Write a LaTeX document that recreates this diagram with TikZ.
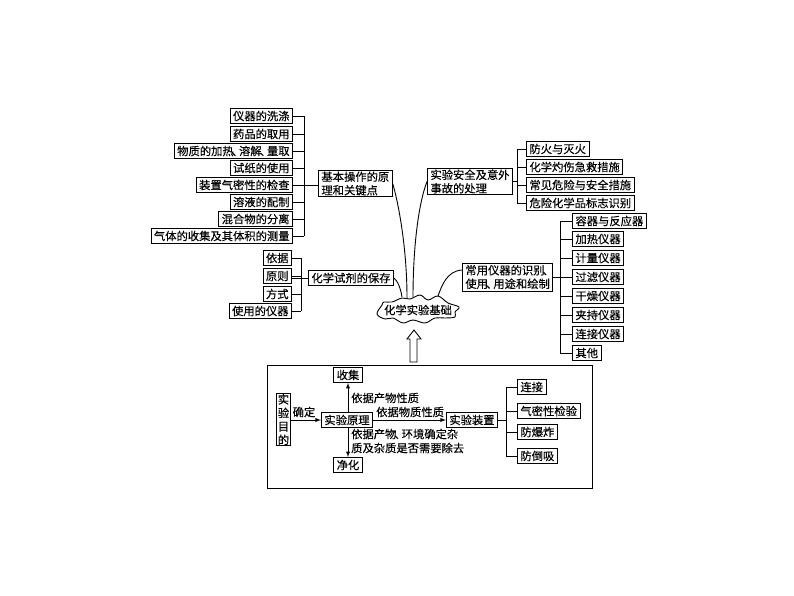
\documentclass[tikz,border=0pt]{standalone}
\usepackage{fontspec}
\setmainfont[FakeBold=0.3]{Noto Sans CJK SC}
\usetikzlibrary{calc}
\newcommand{\dunhao}{\kern-2pt、\kern-4pt}
\tikzset{
  itembox/.style={draw, line width=0.9pt, fill=white, inner xsep=3pt, inner ysep=0pt, minimum height=15pt, align=left,
    font=\fontsize{11.3}{13.5}\selectfont},
  plain/.style={inner sep=0pt, align=left, font=\fontsize{11.3}{14}\selectfont},
  wire/.style={line width=0.9pt},
}
\begin{document}
\begin{tikzpicture}[x=1pt, y=-1pt]
        \useasboundingbox (0,0) rectangle (794,596);

        % Basic operations
        \coordinate (busa) at (304,185);
        \foreach \name/\y/\txt in {wash/116/仪器的洗涤, take/134/药品的取用, heat/151/物质的加热\dunhao 溶解\dunhao 量取, paper/168/试纸的使用,
            tight/185/装置气密性的检查, sol/202/溶液的配制, mix/219/混合物的分离, gas/236/气体的收集及其体积的测量} {
            \node[itembox, anchor=east] (\name) at (293,\y) {\txt};
            \draw[wire] (\name.east) -- (\name.east -| busa);
        }
        \draw[wire] (wash.east -| busa) -- (gas.east -| busa);
        \node[itembox, anchor=west, inner ysep=1pt] (basic) at (318,183.5) {基本操作的原\\理和关键点};
        \draw[wire] (tight.east) -- (basic.west |- tight.east);

        % Reagent storage
        \coordinate (busb) at (301,278);
        \foreach \name/\y/\txt in {basis/258/依据, rule/276/原则, way/294/方式, tool/311/使用的仪器} {
            \node[itembox, anchor=east] (\name) at (292,\y) {\txt};
            \draw[wire] (\name.east) -- (\name.east -| busb);
        }
        \draw[wire] (basis.east -| busb) -- (tool.east -| busb);
        \node[itembox, anchor=west] (store) at (308,278) {化学试剂的保存};
        \draw[wire] (rule.east |- store.west) -- (store.west);

        % Safety
        \node[itembox, anchor=west, inner ysep=1pt] (safe) at (427,181.5) {实验安全及意外\\事故的处理};
        \coordinate (busc) at (517,182);
        \foreach \name/\y/\txt in {fire/149/防火与灭火, burn/167/化学灼伤急救措施, risk/185/常见危险与安全措施, sign/203/危险化学品标志识别} {
            \node[itembox, anchor=west] (\name) at (526,\y) {\txt};
            \draw[wire] (\name.west) -- (\name.west -| busc);
        }
        \draw[wire] (fire.west -| busc) -- (sign.west -| busc);
        \draw[wire] (safe.east) -- (safe.east -| busc);

        % Instruments
        \node[itembox, anchor=west, inner ysep=2pt] (instr) at (462,277) {常用仪器的识别\dunhao\\使用\dunhao 用途和绘制};
        \coordinate (busd) at (560,277);
        \foreach \name/\y/\txt in {vessel/221/容器与反应器, heater/239/加热仪器, meter/258/计量仪器, filter/277/过滤仪器,
            dry/296/干燥仪器, clamp/315/夹持仪器, joint/334/连接仪器, other/353/其他} {
            \node[itembox, anchor=west] (\name) at (572,\y) {\txt};
            \draw[wire] (\name.west) -- (\name.west -| busd);
        }
        \draw[wire] (vessel.west -| busd) -- (other.west -| busd);
        \draw[wire] (instr.east) -- (instr.east -| busd);

        % Cloud
        \draw[wire, fill=white] plot[smooth cycle, tension=0.6] coordinates {(377,314) (382,305) (384,302) (392,302) (402,298)
            (410,299) (420,295) (428,300) (438,296) (448,303) (459,307) (455,312) (455,317) (445,318) (435,318) (425,323)
            (413,320) (403,323) (393,318) (385,319)};
        \node[plain] (cloud) at (418,310) {化学实验基础};
        \coordinate (cloudb) at (407,298);
        \coordinate (cloudc) at (402,297);
        \coordinate (cloudd) at (413,297);
        \coordinate (cloude) at (438,296);
        \draw[wire] (basic.east) .. controls (399,205) and (407,250) .. (cloudb);
        \draw[wire] (store.east) .. controls (398,281) and (401,290) .. (cloudc);
        \draw[wire] (safe.west) .. controls (418,205) and (413,250) .. (cloudd);
        \draw[wire] ([yshift=7pt]instr.west) .. controls (447,271) and (442,285) .. (cloude);

        % Hollow arrow
        \draw[wire] (410,362) -- (410,339) -- (407,339) -- (414,330) -- (421,339) -- (417,339) -- (417,362) -- cycle;

        % Lower frame
        \draw[line width=1pt] (267,365) rectangle (592,488);
        \node[itembox, inner xsep=1.5pt, inner ysep=1pt] (aim) at (283.5,419.5) {实\\验\\目\\的};
        \node[itembox] (prin) at (347,420) {实验原理};
        \node[itembox] (collect) at (348,375) {收集};
        \node[itembox] (purify) at (348,465) {净化};
        \node[itembox] (setup) at (472,420) {实验装置};
        \draw[wire, -latex] (aim.east |- prin.west) -- (prin.west);
        \draw[wire, -latex] (prin.north -| collect.south) -- (collect.south);
        \draw[wire, -latex] (prin.south -| purify.north) -- (purify.north);
        \draw[wire, -latex] (prin.east) -- (setup.west);
        \node[plain] (fix) at (304,412) {确定};
        \node[plain, anchor=west] (product) at (351,398) {依据产物性质};
        \node[plain, anchor=west] (matter) at (376,412) {依据物质性质};
        \node[plain, anchor=west] (impure) at (351,441) {依据产物\dunhao 环境确定杂\\质及杂质是否需要除去};

        \coordinate (buse) at (506,420);
        \foreach \name/\y/\txt in {link/387/连接, seal/411/气密性检验, blast/432/防爆炸, back/456/防倒吸} {
            \node[itembox, anchor=west] (\name) at (517,\y) {\txt};
            \draw[wire] (\name.west) -- (\name.west -| buse);
        }
        \draw[wire] (link.west -| buse) -- (back.west -| buse);
        \draw[wire] (setup.east) -- (buse);
\end{tikzpicture}
\end{document}
